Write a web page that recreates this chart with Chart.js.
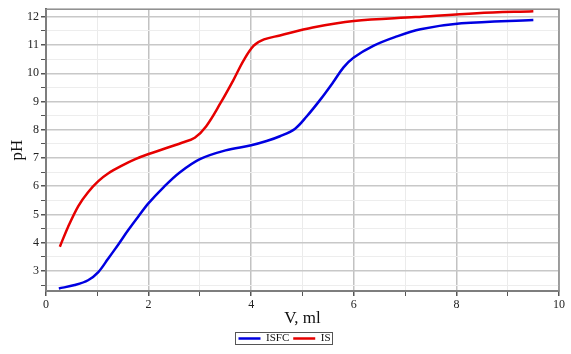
<!DOCTYPE html>
<html>
<head>
<meta charset="utf-8">
<script src="https://cdn.jsdelivr.net/npm/chart.js@4/dist/chart.umd.min.js"></script>
<style>
  html, body { margin: 0; padding: 0; background: #fff; }
  #wrap { width: 571px; height: 354px; }
</style>
</head>
<body>
<div id="wrap"><canvas id="phChart" width="571" height="354"></canvas></div>
<script>
// titration curves
const isfcV  = [0.25, 0.56, 0.82, 1.02, 1.21, 1.41, 1.6, 1.8, 2.0, 2.3, 2.6, 3.0, 3.5, 4.0, 4.3, 4.56, 4.85, 5.08, 5.34, 5.6, 5.8, 6.0, 6.38, 6.8, 7.3, 8.1, 9.5];
const isfcPH = [2.38, 2.5, 2.67, 2.96, 3.43, 3.94, 4.44, 4.93, 5.4, 5.98, 6.48, 6.96, 7.27, 7.45, 7.6, 7.77, 8.03, 8.47, 9.05, 9.69, 10.21, 10.56, 10.97, 11.28, 11.56, 11.77, 11.89];

const isV  = [0.27, 0.43, 0.63, 0.82, 1.02, 1.21, 1.47, 1.73, 2.0, 2.65, 2.9, 3.12, 3.4, 3.65, 3.85, 4.05, 4.25, 4.56, 5.2, 6.0, 7.2, 8.4, 9.5];
const isPH = [3.86, 4.56, 5.3, 5.79, 6.18, 6.45, 6.72, 6.95, 7.14, 7.54, 7.72, 8.12, 8.94, 9.75, 10.45, 10.98, 11.2, 11.34, 11.62, 11.85, 11.99, 12.13, 12.2];

const seriesNames = ["ISFC", "IS"];
const xTicks = [0, 2, 4, 6, 8, 10];
const yTicks = [3, 4, 5, 6, 7, 8, 9, 10, 11, 12];

const toPoints = (xs, ys) => xs.map((x, i) => ({ x: x, y: ys[i] }));
const serif = "'Liberation Serif', 'DejaVu Serif', serif";

// grey frame round the plot area
const frame = {
    id: 'frame',
    beforeDatasetsDraw(chart) {
        const a = chart.chartArea, ctx = chart.ctx;
        ctx.save();
        ctx.strokeStyle = '#8c8c8c';
        ctx.lineWidth = 1.5;
        ctx.strokeRect(a.left, a.top, a.right - a.left, a.bottom - a.top);
        ctx.restore();
    }
};

// box round the legend items
const legendBox = {
    id: 'legendBox',
    afterDraw(chart) {
        const boxes = chart.legend && chart.legend.legendHitBoxes;
        if (!boxes || !boxes.length) return;
        let l = Infinity, t = Infinity, r = -Infinity, b = -Infinity;
        boxes.forEach(h => {
            l = Math.min(l, h.left); t = Math.min(t, h.top);
            r = Math.max(r, h.left + h.width); b = Math.max(b, h.top + h.height);
        });
        const ctx = chart.ctx;
        ctx.save();
        ctx.strokeStyle = '#555';
        ctx.lineWidth = 1;
        ctx.strokeRect(Math.round(l - 3) + 0.5, Math.round(t - 1) + 0.5, Math.round(r - l + 5), Math.round(b - t + 1));
        ctx.restore();
    }
};

const isMajorY = v => Math.abs(v - Math.round(v)) < 1e-6;

new Chart(document.getElementById('phChart'), {
    type: 'scatter',
    data: {
        datasets: [{
            label: seriesNames[0],
            data: toPoints(isfcV, isfcPH),
            borderColor: 'rgb(0, 0, 225)',
            backgroundColor: 'rgb(0, 0, 225)',
            borderWidth: 2.5
        }, {
            label: seriesNames[1],
            data: toPoints(isV, isPH),
            borderColor: 'rgb(230, 0, 0)',
            backgroundColor: 'rgb(230, 0, 0)',
            borderWidth: 2.5
        }]
    },
    options: {
        responsive: false,
        animation: false,
        showLine: true,
        elements: {
            point: { radius: 0, hoverRadius: 0 },
            line: { tension: 0.35, fill: false }
        },
        layout: { padding: { top: 6, right: 12, left: 10, bottom: 0 } },
        plugins: {
            tooltip: { enabled: false },
            legend: {
                position: 'bottom',
                labels: {
                    usePointStyle: true,
                    pointStyle: 'line',
                    pointStyleWidth: 22,
                    padding: 4,
                    color: '#111',
                    font: { family: serif, size: 11 }
                }
            }
        },
        scales: {
            x: {
                type: 'linear',
                min: 0,
                max: 10,
                afterFit: s => { s.height = 38; },
                ticks: {
                    stepSize: 1,
                    autoSkip: false,
                    maxRotation: 0,
                    padding: 2,
                    color: '#222',
                    font: { family: serif, size: 12 },
                    callback: v => xTicks.includes(v) ? String(v) : ''
                },
                grid: {
                    tickLength: 5,
                    tickColor: '#555',
                    color: ctx => (ctx.tick && xTicks.includes(ctx.tick.value)) ? '#c2c2c2' : '#ebebeb',
                    lineWidth: ctx => (ctx.tick && xTicks.includes(ctx.tick.value)) ? 1.5 : 1
                },
                border: { color: '#555', width: 2 },
                title: {
                    display: true,
                    text: 'V, ml',
                    color: '#111',
                    padding: { top: 0, bottom: 0 },
                    font: { family: serif, size: 17 }
                }
            },
            y: {
                type: 'linear',
                min: 2.29,
                max: 12.27,
                afterFit: s => { s.width = 36; },
                ticks: {
                    stepSize: 0.5,
                    includeBounds: false,
                    autoSkip: false,
                    padding: 2,
                    color: '#222',
                    font: { family: serif, size: 12 },
                    callback: v => (isMajorY(v) && yTicks.includes(Math.round(v))) ? String(Math.round(v)) : ''
                },
                grid: {
                    tickLength: 5,
                    tickColor: '#555',
                    color: ctx => (ctx.tick && isMajorY(ctx.tick.value)) ? '#c8c8c8' : '#ededed',
                    lineWidth: ctx => (ctx.tick && isMajorY(ctx.tick.value)) ? 1.5 : 1
                },
                border: { color: '#555', width: 2 },
                title: {
                    display: true,
                    text: 'pH',
                    color: '#111',
                    padding: { top: -3, bottom: 0 },
                    font: { family: serif, size: 17 }
                }
            }
        }
    },
    plugins: [frame, legendBox]
});
</script>
</body>
</html>
